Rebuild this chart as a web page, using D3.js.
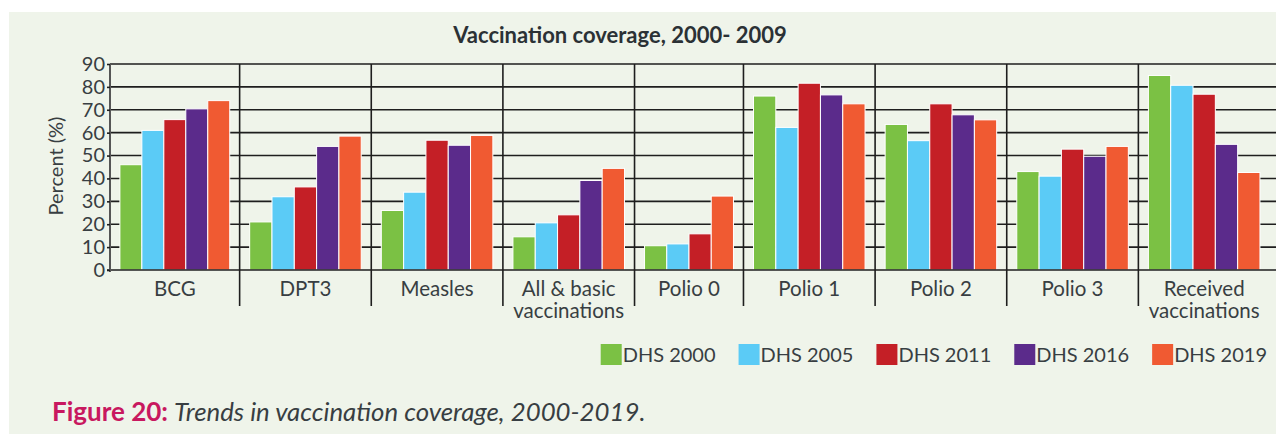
<!DOCTYPE html>
<html>
<head>
<meta charset="utf-8">
<script src="https://cdn.jsdelivr.net/npm/d3@7/dist/d3.min.js"></script>
<style>
  body { margin: 0; background: #fff; }
  svg { display: block; font-family: Lato, "Liberation Sans", sans-serif; }
</style>
</head>
<body>
<div id="chart"></div>
<script>
const categories = ['BCG', 'DPT3', 'Measles', 'All & basic|vaccinations', 'Polio 0', 'Polio 1', 'Polio 2', 'Polio 3', 'Received|vaccinations']
const seriesNames = ['DHS 2000', 'DHS 2005', 'DHS 2011', 'DHS 2016', 'DHS 2019']
const dhs2000 = [46, 21, 26, 14.5, 10.6, 76, 63.6, 43, 85]
const dhs2005 = [61, 32, 34, 20.6, 11.4, 62.3, 56.5, 41, 80.7]
const dhs2011 = [65.7, 36.3, 56.7, 24.1, 15.8, 81.6, 72.6, 52.8, 76.8]
const dhs2016 = [70.4, 54, 54.5, 39.1, null, 76.5, 67.8, 49.7, 54.9]
const dhs2019 = [74, 58.5, 58.8, 44.4, 32.3, 72.6, 65.6, 54, 42.6]
const yTicks = [0, 10, 20, 30, 40, 50, 60, 70, 80, 90]
const seriesColors = ['#7bc144', '#5bcbf6', '#c41f26', '#5b2b8b', '#f05a32']

const title = 'Vaccination coverage, 2000- 2009'
const yLabel = 'Percent (%)'
const captionLead = 'Figure 20:'
const captionText = 'Trends in vaccination coverage, 2000-2019.'

const draw = () => {
  const values = [dhs2000, dhs2005, dhs2011, dhs2016, dhs2019]

  const dimensions = {
    width: 1276,
    height: 434,
    margin: { top: 64, bottom: 164, left: 110, right: 0 }
  }
  dimensions.ctrWidth = dimensions.width - dimensions.margin.left - dimensions.margin.right
  dimensions.ctrHeight = dimensions.height - dimensions.margin.top - dimensions.margin.bottom
  // categories stop a little short of the right edge, grid runs on
  dimensions.catWidth = dimensions.ctrWidth - 6

  const textColor = '#383e42'

  const svg = d3.select('#chart')
    .append('svg')
    .attr('width', dimensions.width)
    .attr('height', dimensions.height)

  // panel background
  svg.append('rect')
    .attr('x', 9).attr('y', 12)
    .attr('width', dimensions.width - 9)
    .attr('height', dimensions.height - 12)
    .attr('fill', '#eff4ea')

  const ctr = svg.append('g')
    .attr('transform', `translate(${dimensions.margin.left}, ${dimensions.margin.top})`)

  // rows: one per category, only series that have a value
  const rows = categories.map((c, i) => ({
    category: c,
    bars: seriesNames
      .map((s, j) => ({ series: s, color: seriesColors[j], value: values[j][i] }))
      .filter(d => d.value != null)
  }))

  // category width follows how many bars it holds
  const weights = rows.map(r => r.bars.length + 0.8)
  const edges = [0, ...d3.cumsum(weights)]
  const xScale = d3.scaleLinear()
    .domain([0, edges[edges.length - 1]])
    .range([-2, dimensions.catWidth])
  rows.forEach((r, i) => {
    r.x0 = Math.max(0, xScale(edges[i]))
    r.x1 = xScale(edges[i + 1])
  })

  const yScale = d3.scaleLinear()
    .domain([0, 90])
    .range([dimensions.ctrHeight, 0])

  // horizontal grid
  ctr.append('g')
    .selectAll('line')
    .data(yTicks.filter(t => t > 0))
    .join('line')
    .attr('x1', 0)
    .attr('x2', dimensions.ctrWidth)
    .attr('y1', d => yScale(d))
    .attr('y2', d => yScale(d))
    .attr('stroke', '#1e1e1e')
    .attr('stroke-width', 1.6)

  // category separators
  ctr.append('g')
    .selectAll('line')
    .data(rows.slice(0, -1))
    .join('line')
    .attr('x1', d => d.x1)
    .attr('x2', d => d.x1)
    .attr('y1', 0)
    .attr('y2', dimensions.ctrHeight + 36)
    .attr('stroke', '#1e1e1e')
    .attr('stroke-width', 1.6)

  // bars
  const groups = ctr.append('g')
    .selectAll('g')
    .data(rows)
    .join('g')

  groups.each(function (r) {
    const inner = d3.scaleBand()
      .domain(r.bars.map(b => b.series))
      .range([r.x0, r.x1])
      .paddingInner(0)
      .paddingOuter(0.45)

    d3.select(this)
      .selectAll('rect')
      .data(r.bars)
      .join('rect')
      .attr('x', b => inner(b.series))
      .attr('width', inner.bandwidth())
      .attr('y', b => yScale(b.value))
      .attr('height', b => yScale(0) - yScale(b.value))
      .attr('fill', b => b.color)
      .attr('stroke', '#fff')
      .attr('stroke-width', 1)
  })

  // baseline
  ctr.append('line')
    .attr('x1', -3)
    .attr('x2', dimensions.ctrWidth)
    .attr('y1', yScale(0))
    .attr('y2', yScale(0))
    .attr('stroke', '#1e1e1e')
    .attr('stroke-width', 1.6)

  // y axis
  const yAxis = d3.axisLeft(yScale)
    .tickValues(yTicks)
    .tickSize(3)
    .tickPadding(2)

  const yAxisGroup = ctr.append('g')
    .call(yAxis)
  yAxisGroup.select('.domain')
    .attr('stroke', '#555')
    .attr('stroke-width', 2)
    .attr('d', `M0,0V${dimensions.ctrHeight + 2}`)
  yAxisGroup.selectAll('.tick line')
    .attr('stroke', '#1e1e1e')
    .attr('stroke-width', 1.6)
  yAxisGroup.selectAll('.tick text')
    .attr('fill', textColor)
    .style('font-size', '20px')
    .style('font-family', 'Lato, sans-serif')

  // y axis title
  const textX = -55
  const textY = dimensions.ctrHeight / 2 - 1
  ctr.append('text')
    .attr('x', textX)
    .attr('y', textY)
    .attr('text-anchor', 'middle')
    .attr('dominant-baseline', 'central')
    .attr('fill', textColor)
    .style('font-size', '20px')
    .attr('transform', `rotate(270, ${textX}, ${textY})`)
    .text(yLabel)

  // category labels
  const labels = ctr.append('g')
    .selectAll('text')
    .data(rows)
    .join('text')
    .attr('x', d => (d.x0 + d.x1) / 2)
    .attr('y', dimensions.ctrHeight + 26)
    .attr('text-anchor', 'middle')
    .attr('fill', textColor)
    .style('font-size', '20.5px')

  labels.selectAll('tspan')
    .data(d => d.category.split('|'))
    .join('tspan')
    .attr('x', function () { return d3.select(this.parentNode).attr('x') })
    .attr('dy', (d, i) => i === 0 ? 0 : 22)
    .text(d => d)

  // title
  svg.append('text')
    .attr('x', 620)
    .attr('y', 43)
    .attr('text-anchor', 'middle')
    .attr('fill', '#2b3135')
    .style('font-size', '22px')
    .style('font-weight', 'bold')
    .text(title)

  // legend, right aligned
  const legend = svg.append('g')
  const items = legend.selectAll('g')
    .data(seriesNames)
    .join('g')
  items.append('rect')
    .attr('width', 21)
    .attr('height', 21)
    .attr('y', 344)
    .attr('fill', (d, i) => seriesColors[i])
  items.append('text')
    .attr('x', 22)
    .attr('y', 362)
    .attr('fill', textColor)
    .style('font-size', '20px')
    .text(d => d)

  const widths = []
  items.selectAll('text').each(function () { widths.push(22 + this.getComputedTextLength()) })
  const gap = 23
  let cursor = 1267 - d3.sum(widths) - gap * (widths.length - 1)
  items.attr('transform', (d, i) => {
    const x = cursor
    cursor += widths[i] + gap
    return `translate(${x}, 0)`
  })

  // caption
  const lead = svg.append('text')
    .attr('x', 52)
    .attr('y', 421)
    .attr('fill', '#c8185f')
    .style('font-size', '26px')
    .style('font-weight', 'bold')
    .text(captionLead)
  svg.append('text')
    .attr('x', 52 + lead.node().getComputedTextLength() + 6)
    .attr('y', 421)
    .attr('fill', '#383e42')
    .style('font-size', '25.8px')
    .style('font-style', 'italic')
    .text(captionText)
}

draw()
</script>
</body>
</html>
